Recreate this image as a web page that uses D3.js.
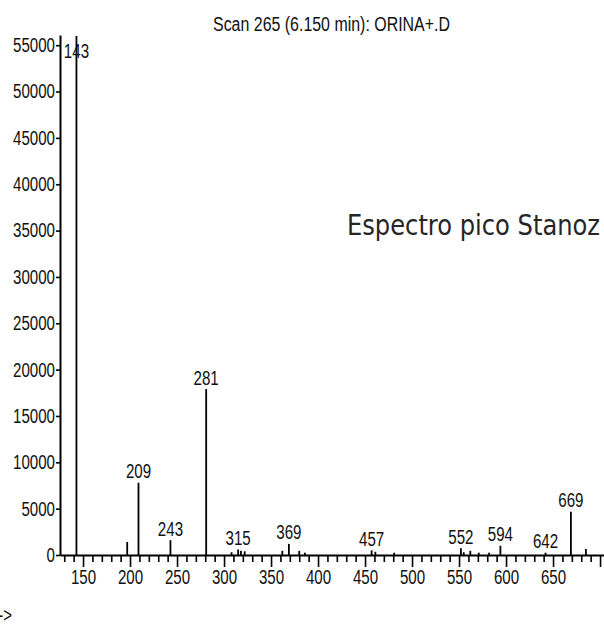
<!DOCTYPE html>
<html>
<head>
<meta charset="utf-8">
<script src="https://cdn.jsdelivr.net/npm/d3@7"></script>
<style>
  html, body { margin: 0; padding: 0; background: #fff; }
  svg { display: block; }
</style>
</head>
<body>
<script>
// Mass spectrum, scan 265 — m/z against abundance
const mz =        [143, 197, 209, 243, 281, 308, 315, 318, 322, 362, 369, 380, 386, 457, 461, 481, 552, 555, 562, 571, 582, 594, 642, 669, 685];
const abundance = [56000, 1400, 7800, 1600, 17900, 300, 600, 450, 400, 450, 1200, 450, 250, 500, 350, 250, 720, 300, 450, 250, 250, 1000, 250, 4670, 650];
const labeledMz = [143, 209, 243, 281, 315, 369, 457, 552, 594, 642, 669];
const yTicks = [0, 5000, 10000, 15000, 20000, 25000, 30000, 35000, 40000, 45000, 50000, 55000];
const xMajorTicks = [150, 200, 250, 300, 350, 400, 450, 500, 550, 600, 650, 700];
const xTickLabels = ["150", "200", "250", "300", "350", "400", "450", "500", "550", "600", "650", ""];
const titleText = "Scan 265 (6.150 min): ORINA+.D";
const noteText = "Espectro pico Stanoz";
const xAxisLabel = "m/z-->";

const W = 604, H = 625;
const svg = d3.select("body").append("svg").attr("width", W).attr("height", H);

const x = d3.scaleLinear().domain([125.5, 704]).range([60, 603.8]);
const y = d3.scaleLinear().domain([0, 56100]).range([555, 35]);

const FONT = "'Liberation Sans', Arial, sans-serif";
const SQUEEZE = 0.75;   // narrow lettering
const DIGIT_W = 8.4;

// x axis: minor ticks every 10, major every 50 with labels
const minorVals = d3.range(130, 705, 10).filter(v => v % 50 !== 0);
svg.append("g")
  .attr("transform", `translate(0,${y(0)})`)
  .call(d3.axisBottom(x).tickValues(minorVals).tickSize(7).tickSizeOuter(0).tickFormat(""))
  .call(g => g.select(".domain").remove())
  .call(g => g.selectAll(".tick line").attr("stroke", "#000").attr("stroke-width", 1.6));

const xAxis = svg.append("g")
  .attr("transform", `translate(0,${y(0)})`)
  .call(d3.axisBottom(x).tickValues(xMajorTicks).tickSize(12).tickSizeOuter(0).tickPadding(3)
    .tickFormat((d, i) => xTickLabels[i]));
xAxis.select(".domain").attr("stroke", "#000").attr("stroke-width", 2);
xAxis.selectAll(".tick line").attr("stroke", "#000").attr("stroke-width", 1.6);
xAxis.selectAll(".tick text")
  .filter((d, i) => xTickLabels[i] === "").remove();
xAxis.selectAll(".tick text")
  .attr("fill", "#111")
  .style("font-family", FONT).style("font-size", "20px")
  .attr("textLength", d => String(d).length * DIGIT_W)
  .attr("lengthAdjust", "spacingAndGlyphs");

// y axis
const yAxis = svg.append("g")
  .attr("transform", `translate(${x(125.5)},0)`)
  .call(d3.axisLeft(y).tickValues(yTicks).tickSize(4).tickSizeOuter(0).tickPadding(1).tickFormat(d3.format("d")));
yAxis.select(".domain").attr("stroke", "#000").attr("stroke-width", 2);
yAxis.selectAll(".tick line").attr("stroke", "#000").attr("stroke-width", 1.6);
yAxis.selectAll(".tick text")
  .attr("fill", "#111")
  .style("font-family", FONT).style("font-size", "20px")
  .attr("textLength", d => String(d).length * DIGIT_W)
  .attr("lengthAdjust", "spacingAndGlyphs");

// peaks
const peaks = mz.map((m, i) => ({ m, a: abundance[i] }));
svg.append("g").selectAll("line")
  .data(peaks)
  .join("line")
  .attr("x1", d => x(d.m)).attr("x2", d => x(d.m))
  .attr("y1", y(0)).attr("y2", d => y(d.a))
  .attr("stroke", "#000").attr("stroke-width", 1.8);

// peak labels (kept inside the plot at the top)
svg.append("g").selectAll("text")
  .data(peaks.filter(d => labeledMz.includes(d.m)))
  .join("text")
  .attr("x", d => x(d.m))
  .attr("y", d => Math.max(y(d.a) - 4.5, 58))
  .attr("text-anchor", "middle")
  .attr("fill", "#111")
  .style("font-family", FONT).style("font-size", "20px")
  .attr("textLength", d => String(d.m).length * DIGIT_W)
  .attr("lengthAdjust", "spacingAndGlyphs")
  .text(d => d.m);

// title
svg.append("text")
  .attr("x", 213).attr("y", 30.5)
  .attr("fill", "#111")
  .style("font-family", FONT).style("font-size", "19.5px")
  .attr("textLength", 237).attr("lengthAdjust", "spacingAndGlyphs")
  .text(titleText);

// annotation
svg.append("text")
  .attr("x", 347).attr("y", 235)
  .attr("fill", "#262626")
  .style("font-family", "'DejaVu Sans', Verdana, sans-serif").style("font-size", "29px")
  .attr("textLength", 253).attr("lengthAdjust", "spacingAndGlyphs")
  .text(noteText);

// x axis caption
svg.append("text")
  .attr("transform", `translate(12,622) scale(${SQUEEZE},1)`)
  .attr("text-anchor", "end")
  .attr("fill", "#111")
  .style("font-family", FONT).style("font-size", "20px")
  .text(xAxisLabel);
</script>
</body>
</html>
